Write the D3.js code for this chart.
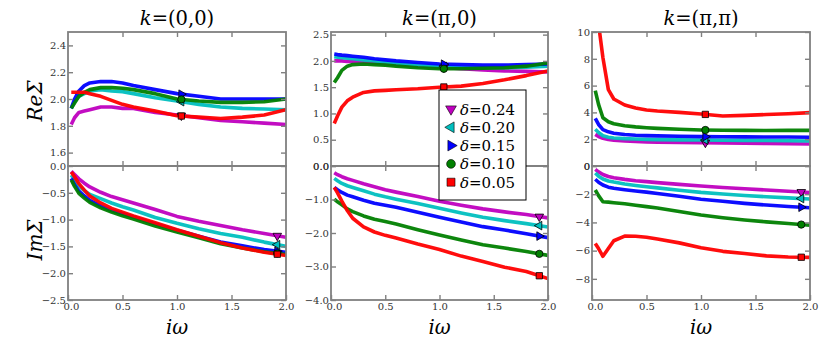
<!DOCTYPE html>
<html><head><meta charset="utf-8">
<script src="https://cdn.jsdelivr.net/npm/d3@7"></script>
<style>body{margin:0;background:#fff}svg{display:block}
.math{font-family:"DejaVu Serif",serif}
.tick text{font-family:"DejaVu Serif",serif}
</style>
</head><body>
<svg id="c" width="830" height="344"></svg>
<script>
// ---------- data ----------
const freq = [0.03, 0.06, 0.1, 0.15, 0.2, 0.3, 0.4, 0.5, 0.6, 0.8, 1.0, 1.2, 1.4, 1.6, 1.8, 2.0];
const deltas = ["0.24", "0.20", "0.15", "0.10", "0.05"];
const colors = ["#bf00bf", "#00bfbf", "#0000ff", "#008000", "#ff0000"];
const symbols = ["down", "left", "right", "circle", "square"];
const kLabels = ["(0,0)", "(π,0)", "(π,π)"];

// Re Sigma, k=(0,0): one row per delta (0.24, 0.20, 0.15, 0.10, 0.05)
const reK00 = [
  [1.81, 1.86, 1.90, 1.91, 1.92, 1.94, 1.94, 1.93, 1.93, 1.90, 1.88, 1.86, 1.84, 1.83, 1.82, 1.81],
  [1.93, 1.98, 2.02, 2.04, 2.06, 2.07, 2.06, 2.055, 2.04, 2.01, 1.985, 1.96, 1.94, 1.93, 1.925, 1.92],
  [1.93, 2.00, 2.06, 2.10, 2.12, 2.13, 2.13, 2.12, 2.10, 2.07, 2.04, 2.02, 2.00, 2.00, 2.00, 2.00],
  [1.93, 1.97, 2.02, 2.05, 2.07, 2.085, 2.085, 2.08, 2.07, 2.04, 2.00, 1.985, 1.975, 1.975, 1.98, 2.00],
  [2.05, 2.05, 2.05, 2.05, 2.04, 2.02, 1.99, 1.96, 1.94, 1.91, 1.875, 1.865, 1.855, 1.865, 1.88, 1.92]
];
const imK00 = [
  [-0.10, -0.16, -0.24, -0.32, -0.39, -0.49, -0.57, -0.63, -0.69, -0.81, -0.94, -1.03, -1.11, -1.19, -1.26, -1.33],
  [-0.17, -0.26, -0.37, -0.46, -0.53, -0.61, -0.69, -0.76, -0.82, -0.96, -1.07, -1.17, -1.26, -1.33, -1.42, -1.50],
  [-0.23, -0.35, -0.47, -0.56, -0.64, -0.75, -0.83, -0.89, -0.95, -1.08, -1.20, -1.31, -1.42, -1.49, -1.56, -1.61],
  [-0.26, -0.38, -0.51, -0.60, -0.68, -0.78, -0.86, -0.93, -0.99, -1.12, -1.23, -1.34, -1.45, -1.53, -1.60, -1.65],
  [-0.11, -0.20, -0.33, -0.45, -0.56, -0.69, -0.79, -0.86, -0.93, -1.06, -1.19, -1.31, -1.43, -1.53, -1.61, -1.67]
];
const reKpi0 = [
  [2.00, 2.00, 2.00, 1.99, 1.99, 1.98, 1.96, 1.94, 1.93, 1.90, 1.88, 1.85, 1.83, 1.81, 1.80, 1.79],
  [2.08, 2.07, 2.06, 2.05, 2.04, 2.02, 2.00, 1.98, 1.96, 1.93, 1.90, 1.88, 1.87, 1.87, 1.88, 1.90],
  [2.13, 2.12, 2.11, 2.10, 2.09, 2.07, 2.04, 2.02, 2.00, 1.97, 1.94, 1.93, 1.92, 1.92, 1.93, 1.94],
  [1.59, 1.68, 1.82, 1.90, 1.93, 1.94, 1.93, 1.92, 1.90, 1.87, 1.85, 1.85, 1.86, 1.87, 1.90, 1.96],
  [0.81, 0.95, 1.12, 1.24, 1.31, 1.40, 1.43, 1.44, 1.45, 1.47, 1.50, 1.52, 1.57, 1.64, 1.72, 1.81]
];
const imKpi0 = [
  [-0.20, -0.26, -0.32, -0.38, -0.43, -0.53, -0.62, -0.71, -0.78, -0.91, -1.05, -1.17, -1.28, -1.37, -1.45, -1.55],
  [-0.37, -0.44, -0.52, -0.59, -0.64, -0.74, -0.84, -0.92, -0.99, -1.12, -1.26, -1.40, -1.53, -1.63, -1.72, -1.82],
  [-0.64, -0.71, -0.79, -0.87, -0.92, -1.02, -1.11, -1.17, -1.23, -1.38, -1.53, -1.67, -1.81, -1.91, -2.02, -2.14],
  [-0.99, -1.07, -1.16, -1.28, -1.36, -1.49, -1.59, -1.66, -1.73, -1.90, -2.06, -2.21, -2.35, -2.45, -2.55, -2.67],
  [-0.64, -0.80, -1.05, -1.33, -1.56, -1.82, -1.97, -2.07, -2.15, -2.33, -2.49, -2.69, -2.85, -3.02, -3.15, -3.36]
];
const reKpipi = [
  [2.36, 2.20, 2.07, 1.98, 1.92, 1.87, 1.83, 1.80, 1.78, 1.76, 1.74, 1.72, 1.70, 1.68, 1.66, 1.64],
  [2.74, 2.50, 2.26, 2.15, 2.09, 2.04, 2.01, 1.99, 1.97, 1.95, 1.94, 1.92, 1.91, 1.90, 1.88, 1.87],
  [3.56, 3.10, 2.72, 2.55, 2.45, 2.35, 2.30, 2.27, 2.25, 2.22, 2.19, 2.18, 2.17, 2.16, 2.16, 2.15],
  [5.62, 4.60, 3.60, 3.30, 3.15, 3.00, 2.92, 2.86, 2.81, 2.74, 2.69, 2.67, 2.66, 2.65, 2.66, 2.66],
  [14.0, 10.6, 8.1, 5.7, 5.0, 4.55, 4.33, 4.18, 4.10, 4.00, 3.88, 3.73, 3.78, 3.84, 3.90, 3.98]
];
const imKpipi = [
  [-0.24, -0.42, -0.60, -0.74, -0.83, -0.95, -1.04, -1.11, -1.18, -1.30, -1.42, -1.52, -1.61, -1.70, -1.79, -1.88],
  [-0.50, -0.72, -0.92, -1.06, -1.14, -1.28, -1.38, -1.47, -1.55, -1.72, -1.87, -1.98, -2.09, -2.18, -2.26, -2.34],
  [-0.94, -1.15, -1.35, -1.50, -1.58, -1.68, -1.77, -1.85, -1.95, -2.15, -2.36, -2.50, -2.65, -2.77, -2.87, -2.96],
  [-1.70, -2.10, -2.53, -2.56, -2.60, -2.68, -2.78, -2.88, -2.98, -3.22, -3.48, -3.67, -3.83, -3.96, -4.08, -4.20],
  [-5.50, -5.85, -6.40, -5.85, -5.30, -4.97, -4.98, -5.05, -5.18, -5.45, -5.80, -6.05, -6.20, -6.37, -6.45, -6.48]
];

// axis domains and tick values
const xTicks = [0.0, 0.5, 1.0, 1.5, 2.0];
const reDomains = [[1.5, 2.5], [0, 2.55], [0, 10]];
const imDomains = [[-2.5, 0], [-4, 0], [-9.5, 0]];
const reTicks = [[1.6, 1.8, 2.0, 2.2, 2.4], [0, 0.5, 1.0, 1.5, 2.0, 2.5], [0, 2, 4, 6, 8, 10]];
const imTicks = [[0, -0.5, -1.0, -1.5, -2.0, -2.5], [0, -1, -2, -3, -4], [0, -2, -4, -6, -8]];
const tickFormats = [[".1f", ".1f"], [".1f", ".1f"], ["d", "d"]];
const markerX = [1.04, 1.92]; // marker positions (top row, bottom row)

// ---------- layout ----------
const svg = d3.select("#c");
const colX = [[68, 286], [331, 548], [592, 810]];
const rowY = [[32, 166], [166, 300]];
const frameColor = "#808080";

const symMap = {
  down: {t: d3.symbolTriangle, r: 180},
  left: {t: d3.symbolTriangle, r: -90},
  right: {t: d3.symbolTriangle, r: 90},
  circle: {t: d3.symbolCircle, r: 0},
  square: {t: d3.symbolSquare, r: 0}
};

function interp(xs, ys, x) {
  for (let i = 0; i < xs.length - 1; i++) {
    if (x >= xs[i] && x <= xs[i + 1]) {
      const t = (x - xs[i]) / (xs[i + 1] - xs[i]);
      return ys[i] + t * (ys[i + 1] - ys[i]);
    }
  }
  return ys[ys.length - 1];
}

const panelData = [[reK00, imK00], [reKpi0, imKpi0], [reKpipi, imKpipi]];

panelData.forEach((colData, c) => {
  colData.forEach((series, r) => {
    const x = d3.scaleLinear().domain([0, 2]).range(colX[c]);
    const dom = r === 0 ? reDomains[c] : imDomains[c];
    const y = d3.scaleLinear().domain(dom).range([rowY[r][1], rowY[r][0]]);
    const ticks = r === 0 ? reTicks[c] : imTicks[c];
    const fmt = d3.format(tickFormats[c][r]);
    const g = svg.append("g");
    const clipId = `clip${c}${r}`;
    svg.append("clipPath").attr("id", clipId).append("rect")
      .attr("x", colX[c][0]).attr("y", rowY[r][0])
      .attr("width", colX[c][1] - colX[c][0]).attr("height", rowY[r][1] - rowY[r][0]);

    const line = d3.line().x((d, i) => x(freq[i])).y(d => y(d));
    const lg = g.append("g").attr("clip-path", `url(#${clipId})`);
    series.forEach((vals, s) => {
      lg.append("path").datum(vals).attr("d", line)
        .attr("fill", "none").attr("stroke", colors[s])
        .attr("stroke-width", 3.6).attr("stroke-linejoin", "round").attr("stroke-opacity", 0.95);
    });
    series.forEach((vals, s) => {
      const mx = markerX[r];
      const my = interp(freq, vals, mx);
      const sm = symMap[symbols[s]];
      lg.append("path")
        .attr("d", d3.symbol().type(sm.t).size(sm.t === d3.symbolCircle ? 42 : (sm.t === d3.symbolSquare ? 40 : 32))())
        .attr("transform", `translate(${x(mx)},${y(my)}) rotate(${sm.r})`)
        .attr("fill", colors[s]).attr("stroke", "#000").attr("stroke-width", 0.8);
    });

    // axes: ticks inward on all four sides
    const axL = d3.axisLeft(y).tickValues(ticks).tickSize(-5).tickFormat(fmt).tickPadding(2);
    const axR = d3.axisRight(y).tickValues(ticks).tickSize(-5).tickFormat("");
    const axT = d3.axisTop(x).tickValues([0.5, 1.0, 1.5]).tickSize(-5).tickFormat("");
    const axB = d3.axisBottom(x).tickValues(r === 1 ? xTicks : [0.5, 1.0, 1.5]).tickSize(-5)
      .tickFormat(r === 1 ? d3.format(".1f") : "").tickPadding(3);
    const styleAxis = sel => {
      sel.select(".domain").remove();
      sel.attr("font-family", null);
      sel.selectAll("line").attr("stroke", frameColor).attr("stroke-width", 1.4);
      sel.selectAll("text").attr("fill", "#333").attr("font-size", 10);
    };
    g.append("g").attr("transform", `translate(${colX[c][0]},0)`).call(axL).call(styleAxis);
    g.append("g").attr("transform", `translate(${colX[c][1]},0)`).call(axR).call(styleAxis);
    g.append("g").attr("transform", `translate(0,${rowY[r][0]})`).call(axT).call(styleAxis);
    const gb = g.append("g").attr("transform", `translate(0,${rowY[r][1]})`).call(axB).call(styleAxis);
    if (r === 1) {
      gb.selectAll("text").filter(function(){ return this.textContent === "0.0"; })
        .attr("text-anchor", "start").attr("dx", "-5");
    }
    g.append("rect").attr("x", colX[c][0]).attr("y", rowY[r][0])
      .attr("width", colX[c][1] - colX[c][0]).attr("height", rowY[r][1] - rowY[r][0])
      .attr("fill", "none").attr("stroke", frameColor).attr("stroke-width", 1.8);
  });

  // column title
  const t = svg.append("text").attr("class", "math").attr("x", (colX[c][0] + colX[c][1]) / 2).attr("y", 25)
    .attr("text-anchor", "middle").attr("font-size", 19.5).attr("fill", "#000");
  t.append("tspan").attr("font-style", "italic").text("k");
  t.append("tspan").text("=" + kLabels[c]);

  // x axis title
  svg.append("text").attr("class", "math").attr("x", (colX[c][0] + colX[c][1]) / 2).attr("y", 334)
    .attr("text-anchor", "middle").attr("font-size", 19.5)
    .attr("font-style", "italic").text("iω");
});

// row titles
[["Re", 101], ["Im", 240]].forEach(([lab, cy]) => {
  svg.append("text").attr("class", "math").attr("transform", `translate(42,${cy}) rotate(-90)`)
    .attr("text-anchor", "middle").attr("font-size", 20)
    .attr("font-style", "italic").text(lab + "Σ");
});

// legend
const lgX = 439, lgY = 90, lgW = 87, lgH = 110;
const leg = svg.append("g");
leg.append("rect").attr("x", lgX).attr("y", lgY).attr("width", lgW).attr("height", lgH)
  .attr("fill", "#fff").attr("stroke", "#000").attr("stroke-width", 1);
deltas.forEach((d, i) => {
  const yy = lgY + 19 + i * 18.3;
  const sm = symMap[symbols[i]];
  leg.append("path")
    .attr("d", d3.symbol().type(sm.t).size(sm.t === d3.symbolCircle ? 60 : (sm.t === d3.symbolSquare ? 64 : 50))())
    .attr("transform", `translate(${lgX + 12},${yy}) rotate(${sm.r})`)
    .attr("fill", colors[i]).attr("stroke", "#000").attr("stroke-width", 0.6);
  const tx = leg.append("text").attr("class", "math").attr("x", lgX + 21).attr("y", yy + 5.5)
    .attr("font-size", 15).attr("fill", "#000");
  tx.append("tspan").attr("font-style", "italic").text("δ");
  tx.append("tspan").text("=" + d);
});
</script>
</body></html>
